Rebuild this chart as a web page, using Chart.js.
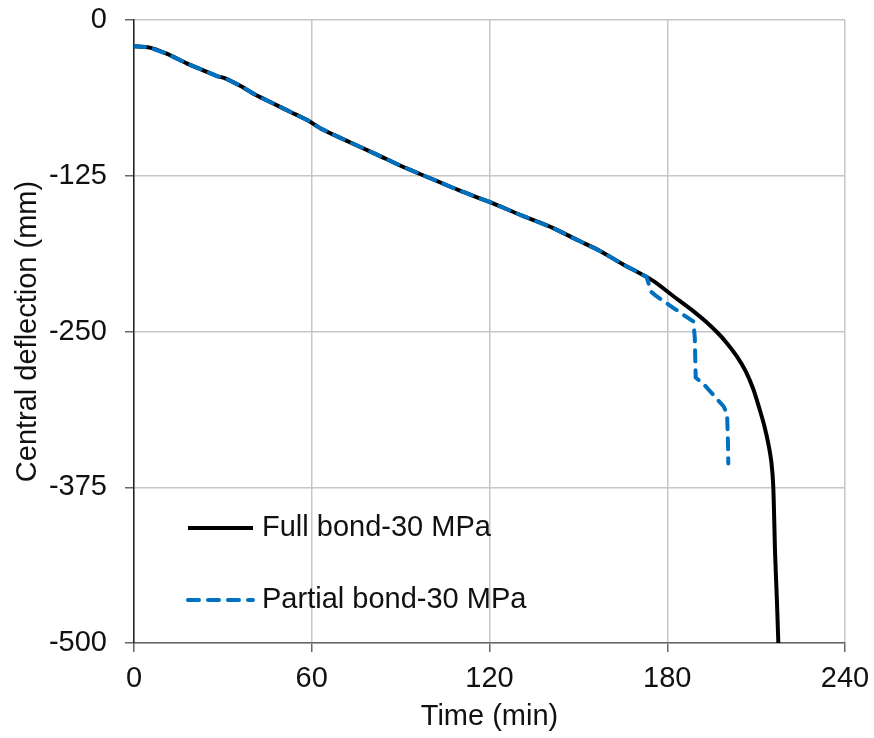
<!DOCTYPE html>
<html>
<head>
<meta charset="utf-8">
<script src="https://cdn.jsdelivr.net/npm/chart.js@4/dist/chart.umd.min.js"></script>
<style>
  html, body { margin: 0; padding: 0; background: #fff; }
  #wrap { width: 874px; height: 738px; }
</style>
</head>
<body>
<div id="wrap"><canvas id="chart" width="874" height="738"></canvas></div>
<script>
// values
const xTicks = [0, 60, 120, 180, 240]
const yTicks = [0, -125, -250, -375, -500]

const fullTime = [0, 5, 11, 18, 23, 28, 31, 36, 41, 47, 53, 59, 63, 70, 82, 90, 100, 110, 120, 131,
  141.5, 150, 157, 165, 175, 182, 189, 193, 197, 200, 203.5, 206.5, 209, 211, 212.8, 214.2, 215.2,
  215.8, 216.4, 217, 217.5]
const fullDefl = [-21, -22, -27, -35, -40, -45, -47, -53, -60, -67, -74, -81, -87, -95, -108, -117,
  -127, -137, -146, -157, -167, -177, -185, -196, -209, -221.5, -234, -242, -251, -259, -270,
  -282, -296, -311, -326, -341, -356, -375, -428, -465, -500]

const partialTime = [0, 5, 11, 18, 23, 28, 31, 36, 41, 47, 53, 59, 63, 70, 82, 90, 100, 110, 120, 131,
  141.5, 150, 157, 165, 173, 174.5, 176, 182, 188.8, 189.3, 189.6, 192.2, 199, 200.2, 200.5, 200.6]
const partialDefl = [-21, -22, -27, -35, -40, -45, -47, -53, -60, -67, -74, -81, -87, -95, -108, -117,
  -127, -137, -146, -157, -167, -177, -185, -196, -206, -218, -221, -231, -242, -255, -287, -292,
  -310, -316, -340, -356]

const seriesLabels = ['Full bond-30 MPa', 'Partial bond-30 MPa']

const toPoints = (xs, ys) => xs.map((x, i) => ({ x, y: ys[i] }))

const FONT = "'Liberation Sans', Arial, sans-serif"
Chart.defaults.font.family = FONT
Chart.defaults.font.size = 29
Chart.defaults.color = '#111'

// legend sits inside the plot, lower left
const insideLegend = {
  id: 'insideLegend',
  afterDraw(chart) {
    const { ctx, chartArea } = chart
    const x0 = chartArea.left + 54
    const x1 = chartArea.left + 119
    const rows = [chartArea.top + 508, chartArea.top + 580]
    ctx.save()
    chart.data.datasets.forEach((ds, i) => {
      const y = rows[i]
      ctx.strokeStyle = ds.borderColor
      ctx.lineWidth = ds.borderWidth
      ctx.lineCap = ds.borderCapStyle || 'butt'
      ctx.setLineDash(ds.borderDash || [])
      ctx.beginPath()
      ctx.moveTo(x0, y)
      ctx.lineTo(x1, y)
      ctx.stroke()
      ctx.setLineDash([])
      ctx.fillStyle = '#111'
      ctx.font = '29px ' + FONT
      ctx.textBaseline = 'middle'
      ctx.textAlign = 'left'
      ctx.fillText(ds.label, x1 + 9, y)
    })
    ctx.restore()
  }
}

new Chart(document.getElementById('chart'), {
  type: 'scatter',
  data: {
    datasets: [
      {
        label: seriesLabels[0],
        data: toPoints(fullTime, fullDefl),
        showLine: true,
        borderColor: '#000',
        borderWidth: 4,
        pointRadius: 0,
        tension: 0.25,
        order: 2,
      },
      {
        label: seriesLabels[1],
        data: toPoints(partialTime, partialDefl),
        showLine: true,
        borderColor: '#0070C0',
        borderWidth: 4,
        borderDash: [11, 9],
        borderCapStyle: 'round',
        pointRadius: 0,
        tension: 0,
        order: 1,
      },
    ]
  },
  options: {
    responsive: false,
    animation: false,
    layout: {
      padding: { top: 20, right: 29, bottom: 0, left: 0 },
    },
    plugins: {
      legend: { display: false },
      tooltip: { enabled: false },
    },
    scales: {
      x: {
        type: 'linear',
        min: 0,
        max: 240,
        afterBuildTicks: axis => { axis.ticks = xTicks.map(value => ({ value })) },
        afterFit: axis => {
          axis.height = 95
          axis.paddingLeft = 0
          axis.paddingRight = 0
        },
        grid: {
          color: '#c6c6c6',
          lineWidth: 1.5,
          tickLength: 9,
          tickColor: '#666',
          tickWidth: 1.5,
        },
        border: { color: '#666', width: 1.5 },
        ticks: { padding: 10, maxRotation: 0 },
        title: {
          display: true,
          text: 'Time (min)',
          padding: { top: 0, bottom: 4 },
        },
      },
      y: {
        type: 'linear',
        min: -500,
        max: 0,
        afterBuildTicks: axis => { axis.ticks = yTicks.map(value => ({ value })) },
        afterFit: axis => {
          axis.width = 134
          axis.paddingTop = 0
          axis.paddingBottom = 0
        },
        grid: {
          color: '#c6c6c6',
          lineWidth: 1.5,
          tickLength: 9,
          tickColor: '#666',
          tickWidth: 1.5,
        },
        border: { color: '#222', width: 1.5 },
        ticks: { padding: 18 },
        title: {
          display: true,
          text: 'Central deflection (mm)',
          padding: { top: 11, bottom: 0 },
        },
      },
    },
  },
  plugins: [insideLegend],
})
</script>
</body>
</html>
